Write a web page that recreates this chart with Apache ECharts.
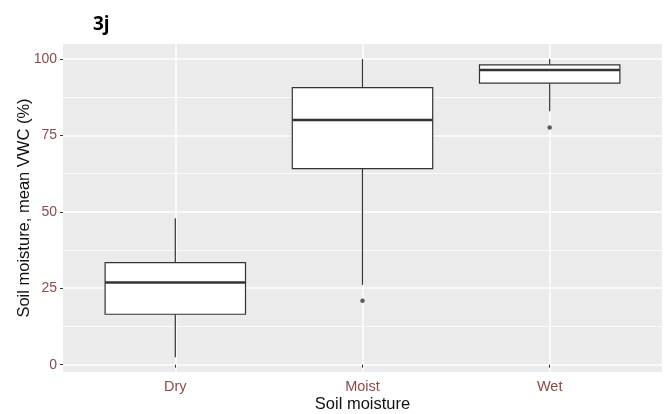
<!DOCTYPE html>
<html>
<head>
<meta charset="utf-8">
<script src="https://cdn.jsdelivr.net/npm/echarts@6/dist/echarts.min.js"></script>
<style>
  html, body { margin: 0; padding: 0; background: #fff; }
  #chart { width: 670px; height: 414px; }
</style>
</head>
<body>
<div id="chart"></div>
<script>
// box statistics, one entry per category
const categories = ['Dry', 'Moist', 'Wet'];
const lowerWhisker = [2.4, 26.1, 82.9];
const q1 = [16.5, 64.1, 92.1];
const median = [26.9, 80.0, 96.4];
const q3 = [33.4, 90.6, 98.1];
const upperWhisker = [47.9, 100, 100];
// outliers: [category index, value]
const outliers = [[1, 20.9], [2, 77.6]];
const yTicks = [0, 25, 50, 75, 100];
const yMinorTicks = [12.5, 37.5, 62.5, 87.5];

const labelColor = '#8c4a4a';
const font = 'Liberation Sans';

const boxData = categories.map((c, i) =>
  [i + 1, lowerWhisker[i], q1[i], median[i], q3[i], upperWhisker[i]]);
const outlierData = outliers.map(o => [o[0] + 1, o[1]]);

const chart = echarts.init(document.getElementById('chart'));

function renderBox(params, api) {
  const x = api.value(0);
  const half = api.size([0.75, 0])[0] / 2;
  const pLo = api.coord([x, api.value(1)]);
  const pQ1 = api.coord([x, api.value(2)]);
  const pMed = api.coord([x, api.value(3)]);
  const pQ3 = api.coord([x, api.value(4)]);
  const pHi = api.coord([x, api.value(5)]);
  const stroke = { stroke: '#333', lineWidth: 1.2 };
  return {
    type: 'group',
    children: [
      { type: 'line', shape: { x1: pLo[0], y1: pLo[1], x2: pQ1[0], y2: pQ1[1] }, style: stroke },
      { type: 'line', shape: { x1: pQ3[0], y1: pQ3[1], x2: pHi[0], y2: pHi[1] }, style: stroke },
      { type: 'rect', shape: { x: pQ3[0] - half, y: pQ3[1], width: half * 2, height: pQ1[1] - pQ3[1] },
        style: { fill: '#fff', stroke: '#333', lineWidth: 1.2 } },
      { type: 'line', shape: { x1: pMed[0] - half, y1: pMed[1], x2: pMed[0] + half, y2: pMed[1] },
        style: { stroke: '#333', lineWidth: 2.5 } }
    ]
  };
}

chart.setOption({
  animation: false,
  title: {
    text: '3j',
    left: 88,
    top: 10,
    textStyle: { fontSize: 19, fontWeight: 'bold', fontFamily: 'Open Sans', color: '#000' }
  },
  grid: {
    left: 63, right: 8, top: 44, bottom: 42,
    outerBoundsMode: 'none',
    show: true, backgroundColor: '#ebebeb', borderWidth: 0
  },
  xAxis: {
    type: 'value',
    min: 0.4,
    max: 3.6,
    name: 'Soil moisture',
    nameLocation: 'middle',
    nameGap: 24,
    nameMoveOverlap: false,
    nameTextStyle: { fontSize: 16.5, fontFamily: font, color: '#111' },
    axisLine: { show: false },
    axisTick: { show: true, length: 3, customValues: [1, 2, 3], lineStyle: { color: '#333' } },
    axisLabel: {
      customValues: [1, 2, 3],
      margin: 7,
      fontSize: 14.5,
      fontFamily: font,
      color: labelColor,
      formatter: v => categories[Math.round(v) - 1] || ''
    },
    splitLine: { show: true, lineStyle: { color: '#fff', width: 1.5 } }
  },
  yAxis: {
    type: 'value',
    min: -2.4,
    max: 104.9,
    name: 'Soil moisture, mean VWC (%)',
    nameLocation: 'middle',
    nameGap: 30,
    nameMoveOverlap: false,
    nameTextStyle: { fontSize: 16.5, fontFamily: font, color: '#111' },
    axisLine: { show: false },
    axisTick: { show: true, length: 3, customValues: yTicks, lineStyle: { color: '#333' } },
    axisLabel: { customValues: yTicks, margin: 6, fontSize: 14, fontFamily: font, color: labelColor },
    splitLine: { show: true, lineStyle: { color: '#fff', width: 1.5 } }
  },
  series: [
    {
      // minor grid lines, drawn under the boxes
      type: 'line',
      data: [],
      z: 1,
      silent: true,
      markLine: {
        z: 1,
        silent: true,
        symbol: 'none',
        label: { show: false },
        lineStyle: { color: '#fff', width: 0.9, type: 'solid' },
        data: yMinorTicks.map(v => ({ yAxis: v }))
      }
    },
    {
      type: 'custom',
      renderItem: renderBox,
      data: boxData,
      encode: { x: 0, y: [1, 2, 3, 4, 5] },
      z: 3
    },
    {
      type: 'scatter',
      data: outlierData,
      symbol: 'circle',
      symbolSize: 4.5,
      itemStyle: { color: '#333' },
      z: 4
    }
  ]
});
</script>
</body>
</html>
